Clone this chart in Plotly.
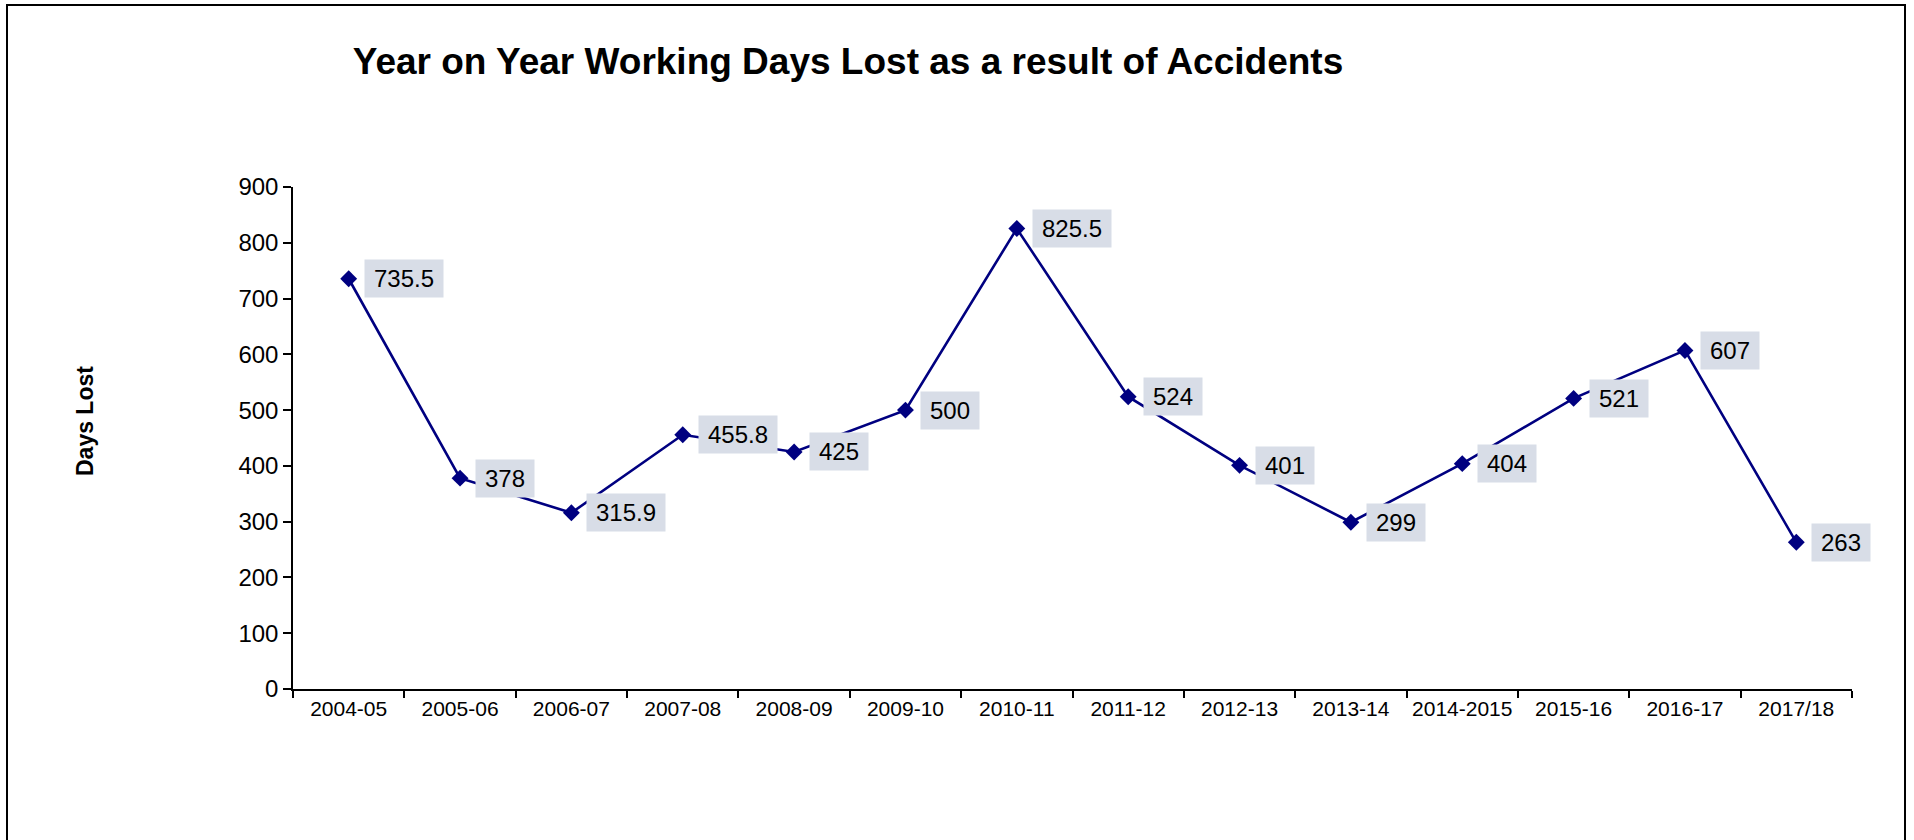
import plotly.graph_objects as go

years = ["2004-05", "2005-06", "2006-07", "2007-08", "2008-09", "2009-10", "2010-11",
         "2011-12", "2012-13", "2013-14", "2014-2015", "2015-16", "2016-17", "2017/18"]
days_lost = [735.5, 378, 315.9, 455.8, 425, 500, 825.5, 524, 401, 299, 404, 521, 607, 263]
y_ticks = [0, 100, 200, 300, 400, 500, 600, 700, 800, 900]

FONT = "Liberation Sans, Arial, sans-serif"
W, H = 1914, 840
L, R, T, B = 293, 62, 187, 151
pw = W - L - R
ph = H - T - B

fig = go.Figure()
fig.add_trace(go.Scatter(
    x=years, y=days_lost, mode="lines+markers",
    line=dict(color="#000080", width=2.6),
    marker=dict(symbol="diamond", size=13, color="#000080"),
    hoverinfo="skip", showlegend=False,
))

def fmt(v):
    return f"{v:g}"

def text_w(s, size=24):
    w = 0
    for ch in s:
        w += 0.278 if ch == "." else 0.556
    return w * size

for x, v in zip(years, days_lost):
    s = fmt(v)
    fig.add_annotation(
        x=x, y=v, xref="x", yref="y", text=s, showarrow=False,
        xanchor="left", yanchor="middle", xshift=15,
        bgcolor="#d8dde7", borderpad=0,
        width=text_w(s) + 18, height=37,
        font=dict(family=FONT, size=24, color="black"),
    )

fig.add_annotation(
    x=(85 - L) / pw, y=(H - B - 421) / ph, xref="paper", yref="paper",
    text="<b>Days Lost</b>", textangle=-90, showarrow=False,
    xanchor="center", yanchor="middle",
    font=dict(family=FONT, size=23, color="black"),
)

fig.add_shape(
    type="rect", xref="paper", yref="paper",
    x0=(7 - L) / pw, x1=(1905 - L) / pw,
    y0=(H - B - 860) / ph, y1=(H - B - 5) / ph,
    line=dict(color="black", width=2), fillcolor="rgba(0,0,0,0)", layer="above",
)

fig.update_layout(
    width=W, height=H,
    margin=dict(l=L, r=R, t=T, b=B),
    paper_bgcolor="white", plot_bgcolor="white",
    title=dict(
        text="<b>Year on Year Working Days Lost as a result of Accidents</b>",
        x=848 / W, xref="container", xanchor="center",
        y=1 - 61 / H, yref="container", yanchor="middle",
        font=dict(family=FONT, size=37, color="black"),
    ),
    xaxis=dict(
        type="category", categoryorder="array", categoryarray=years,
        range=[-0.5, len(years) - 0.5],
        tickson="boundaries", ticks="outside", ticklen=7, tickcolor="black", tickwidth=1.5,
        showline=True, linecolor="black", linewidth=1.5, showgrid=False, zeroline=False,
        tickfont=dict(family=FONT, size=21, color="black"),
    ),
    yaxis=dict(
        range=[0, 900], tickvals=y_ticks, ticks="outside", ticklen=8,
        tickcolor="black", tickwidth=1.5,
        showline=True, linecolor="black", linewidth=1.5, showgrid=False, zeroline=False,
        tickfont=dict(family=FONT, size=24, color="black"),
    ),
)

fig.write_html("out.html", config={"displayModeBar": False},
               post_script="document.body.style.margin='0';")
